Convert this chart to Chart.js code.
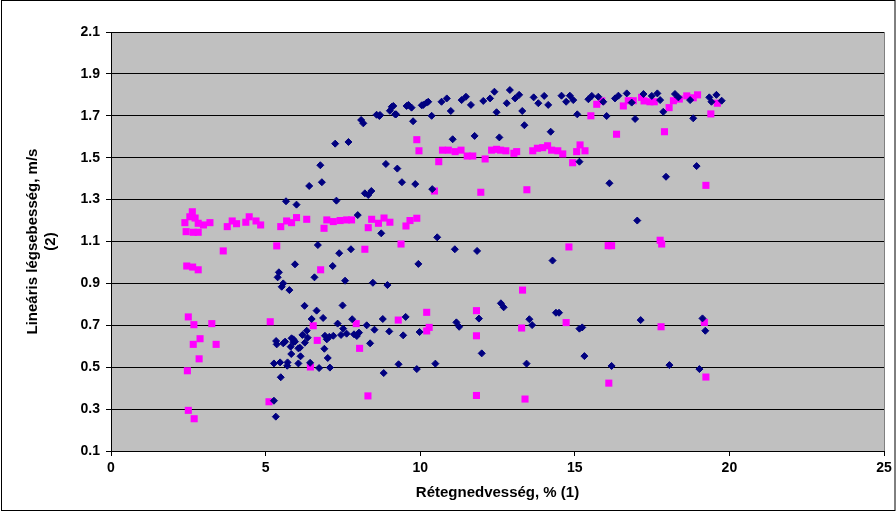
<!DOCTYPE html>
<html>
<head>
<meta charset="utf-8">
<script src="https://cdn.jsdelivr.net/npm/chart.js@4/dist/chart.umd.min.js"></script>
<style>
  html, body { margin: 0; padding: 0; background: #fff; }
  #wrap { width: 896px; height: 512px; }
</style>
</head>
<body>
<div id="wrap"><canvas id="chart"></canvas></div>
<script>
// tick labels
const xTicks = [0, 5, 10, 15, 20, 25];
const yTicks = [0.1, 0.3, 0.5, 0.7, 0.9, 1.1, 1.3, 1.5, 1.7, 1.9, 2.1];

// navy diamonds: [x, y]
const diamondPoints = [
    [5.34,0.625],[5.36,0.609],[5.57,0.614],[5.63,0.622],[5.81,0.598],[5.90,0.633],[5.95,0.622],[6.06,0.59],
    [5.83,0.563],[5.27,0.518],[5.47,0.523],[5.71,0.523],[5.70,0.507],[6.06,0.518],[5.49,0.452],[5.27,0.34],[5.33,0.264],
    [5.66,1.292],[6.00,1.276],[5.95,0.991],[5.43,0.953],[5.39,0.929],[5.57,0.90],[5.52,0.884],[5.77,0.868],
    [6.41,1.365],[6.82,1.383],[6.77,1.464],[7.29,1.295],[7.25,1.567],[7.68,1.575],[8.09,1.68],[8.16,1.664],
    [8.59,1.705],[8.68,1.699],[9.02,1.724],[9.13,1.747],[9.22,1.707],[9.56,1.747],[9.72,1.739],[10.05,1.75],
    [10.21,1.763],[9.77,1.674],[8.89,1.47],[9.26,1.448],[9.41,1.383],[9.84,1.374],[8.21,1.33],[8.32,1.322],
    [8.42,1.341],[7.98,1.226],
    [8.74,1.139],[6.69,1.083],[7.38,1.044],[7.76,1.063],[9.94,0.993],[7.17,0.983],[6.58,0.929],[7.57,0.913],
    [8.47,0.903],[8.94,0.892],
    [6.26,0.793],[6.65,0.77],[7.49,0.795],[6.49,0.73],[6.86,0.735],[7.80,0.729],[8.79,0.73],[9.53,0.74],
    [7.33,0.708],[7.51,0.684],[8.27,0.70],[8.52,0.679],[9.00,0.671],[9.45,0.652],[9.98,0.668],[6.33,0.674],
    [6.19,0.654],[6.36,0.641],[6.92,0.65],[7.06,0.645],[7.19,0.65],[7.44,0.654],[7.62,0.66],[7.86,0.657],
    [8.02,0.665],[7.95,0.649],[5.84,0.638],[5.90,0.619],[6.27,0.617],[6.11,0.593],[6.98,0.633],[6.90,0.588],
    [8.38,0.614],[6.13,0.552],[7.01,0.544],[6.44,0.521],[6.73,0.496],[7.08,0.498],[8.82,0.472],[9.30,0.514],
    [9.89,0.491],
    [8.70,1.704],[9.08,1.743],[9.19,1.707],[9.62,1.752],[10.10,1.752],[10.26,1.767],[10.37,1.70],[10.69,1.767],
    [10.86,1.783],[10.99,1.723],[11.34,1.775],[11.48,1.791],[11.64,1.752],[12.04,1.771],[12.26,1.783],[12.40,1.815],
    [12.47,1.717],[12.80,1.76],[12.90,1.823],[13.07,1.783],[13.20,1.80],[13.30,1.723],[13.67,1.788],[13.82,1.76],
    [14.01,1.795],[14.14,1.752],[14.57,1.796],[14.84,1.796],[14.95,1.775],[15.08,1.707],
    [13.37,1.655],[14.22,1.624],[11.05,1.588],[11.76,1.604],[12.56,1.597],[10.39,1.35],[15.15,1.481],
    [10.55,1.12],[11.12,1.063],[11.84,1.055],[14.28,1.009],[12.61,0.805],[12.70,0.786],[14.39,0.76],[14.49,0.76],
    [11.17,0.714],[11.26,0.693],[11.90,0.732],[13.53,0.729],[13.62,0.701],[11.99,0.566],[10.49,0.517],[13.44,0.517],
    [15.15,0.684],
    [14.72,1.767],[15.44,1.779],[15.55,1.795],[15.76,1.791],[15.92,1.767],[16.30,1.783],[16.41,1.796],[16.68,1.807],
    [16.84,1.763],[17.22,1.804],[17.49,1.795],[17.67,1.807],[17.76,1.775],[18.24,1.804],[18.35,1.788],[18.73,1.775],
    [19.35,1.788],[19.42,1.767],[19.58,1.80],[19.75,1.772],
    [16.03,1.699],[16.95,1.685],[17.86,1.719],[18.83,1.688],[18.94,1.46],[16.12,1.378],[17.95,1.409],[17.02,1.2],
    [17.13,0.725],[15.24,0.69],[19.13,0.733],[19.22,0.674],[15.31,0.553],[16.19,0.506],[18.06,0.51],[19.03,0.491]
];

// magenta squares: [x, y]
const squarePoints = [
    [2.63,1.242],[2.55,1.218],[2.72,1.212],[2.39,1.19],[2.82,1.187],[2.99,1.179],[3.20,1.19],[2.43,1.147],
    [2.66,1.144],[2.82,1.144],[3.76,1.171],[3.92,1.198],[4.06,1.185],[4.36,1.192],[4.47,1.218],[4.69,1.198],
    [4.84,1.179],[5.49,1.171],[5.68,1.198],[5.84,1.19],[6.00,1.214],[3.63,1.055],[5.36,1.079],[2.45,0.983],
    [2.64,0.978],[2.82,0.965],
    [2.50,0.74],[2.68,0.703],[3.26,0.708],[2.88,0.636],[2.66,0.609],[3.40,0.609],[2.85,0.54],[2.47,0.483],
    [5.15,0.717],[5.11,0.335],[2.50,0.294],[2.69,0.254],
    [9.89,1.586],[9.96,1.533],
    [6.33,1.206],[6.98,1.203],[7.19,1.195],[7.41,1.20],[7.62,1.203],[7.78,1.203],[6.89,1.163],[8.32,1.166],
    [8.43,1.206],[8.65,1.187],[8.83,1.212],[9.02,1.192],[9.54,1.174],[9.67,1.20],[9.89,1.211],
    [9.38,1.088],[8.21,1.063],[6.78,0.965],[6.54,0.698],[7.93,0.708],[9.29,0.725],[10.21,0.762],[10.21,0.673],
    [6.67,0.628],[8.04,0.59],[6.45,0.501],
    [10.60,1.481],[10.46,1.341],[11.96,1.335],[13.45,1.347],[10.72,1.536],[10.91,1.536],[11.13,1.529],[11.32,1.536],
    [11.52,1.508],[11.70,1.508],[12.10,1.494],[12.31,1.536],[12.47,1.54],[12.60,1.536],[12.77,1.533],[13.03,1.521],
    [13.12,1.529],[13.64,1.533],[13.79,1.545],[13.96,1.548],[14.12,1.557],[14.25,1.536],[14.45,1.533],[14.61,1.518],
    [14.93,1.476],[15.06,1.529],[15.17,1.561],
    [14.81,1.074],[13.31,0.868],[11.82,0.77],[10.29,0.69],[13.28,0.687],[14.72,0.713],[11.82,0.65],
    [15.71,1.755],[15.87,1.771],[15.52,1.70],[16.57,1.747],[16.73,1.772],[16.89,1.772],[17.16,1.788],[17.24,1.771],
    [17.43,1.767],[17.57,1.767],[18.05,1.739],[18.19,1.772],[18.38,1.78],[18.62,1.795],[18.83,1.786],[18.97,1.80],
    [19.61,1.76],[19.40,1.709],[16.35,1.612],[17.90,1.624],[15.33,1.533],[19.24,1.368],
    [16.08,1.08],[16.19,1.08],[17.76,1.106],[17.81,1.088],[17.79,0.693],[19.19,0.714],[19.24,0.453],[16.10,0.424],
    [13.39,0.348],[11.82,0.365],[8.31,0.363]
];

const xTitle = 'Rétegnedvesség, % (1)';
const yTitle = ['Lineáris légsebesség, m/s', '(2)'];

// grey plot area + frames
const plotBg = {
    id: 'plotBg',
    beforeDraw(chart) {
        const a = chart.chartArea;
        const ctx = chart.ctx;
        ctx.save();
        ctx.fillStyle = '#c0c0c0';
        ctx.fillRect(a.left, a.top, a.right - a.left, a.bottom - a.top);
        ctx.restore();
    },
    afterDraw(chart) {
        const a = chart.chartArea;
        const ctx = chart.ctx;
        ctx.save();
        ctx.strokeStyle = '#808080';
        ctx.lineWidth = 1;
        ctx.beginPath();
        ctx.moveTo(Math.round(a.right) + 0.5, a.top);
        ctx.lineTo(Math.round(a.right) + 0.5, a.bottom);
        ctx.stroke();
        ctx.strokeStyle = '#000';
        ctx.strokeRect(1.5, 0.5, chart.width - 2.5, chart.height - 2);
        ctx.restore();
    }
};

const fam = '"Liberation Sans", Arial, sans-serif';
const tickFont = { family: fam, size: 14, weight: 'bold' };
const titleFont = { family: fam, size: 15, weight: 'bold' };

new Chart(document.getElementById('chart'), {
    type: 'scatter',
    data: {
        datasets: [{
            data: diamondPoints.map(p => ({ x: p[0], y: p[1] })),
            pointStyle: 'rectRot',
            pointRadius: 3.5,
            backgroundColor: '#000080',
            borderColor: '#000080',
            borderWidth: 1
        }, {
            data: squarePoints.map(p => ({ x: p[0], y: p[1] })),
            pointStyle: 'rect',
            pointRadius: 5,
            backgroundColor: '#ff00ff',
            borderColor: '#ff00ff',
            borderWidth: 0
        }]
    },
    options: {
        responsive: true,
        maintainAspectRatio: false,
        animation: false,
        layout: { padding: { top: 32, right: 12, bottom: 0, left: 0 } },
        plugins: {
            legend: { display: false },
            tooltip: { enabled: false }
        },
        scales: {
            x: {
                type: 'linear',
                min: 0,
                max: 25,
                afterBuildTicks: s => { s.ticks = xTicks.map(v => ({ value: v })); },
                afterFit: s => { s.height = 61; },
                grid: { drawOnChartArea: false, drawTicks: true, tickLength: 5, tickColor: '#000' },
                border: { color: '#000', width: 1 },
                ticks: { color: '#000', font: tickFont, padding: 4, maxRotation: 0 },
                title: {
                    display: true,
                    text: xTitle,
                    color: '#000',
                    font: titleFont,
                    padding: { top: 0, bottom: 10 }
                }
            },
            y: {
                type: 'linear',
                min: 0.1,
                max: 2.1,
                afterBuildTicks: s => { s.ticks = yTicks.map(v => ({ value: v })); },
                afterFit: s => { s.width = 111; },
                grid: { color: '#000', lineWidth: 1, drawTicks: true, tickLength: 5, tickColor: '#000' },
                border: { color: '#000', width: 1 },
                ticks: {
                    color: '#000',
                    font: tickFont,
                    padding: 6,
                    callback: v => Number(v).toFixed(1)
                },
                title: {
                    display: true,
                    text: yTitle,
                    color: '#000',
                    font: titleFont,
                    padding: { top: 24, bottom: 0 }
                }
            }
        }
    },
    plugins: [plotBg]
});
</script>
</body>
</html>
